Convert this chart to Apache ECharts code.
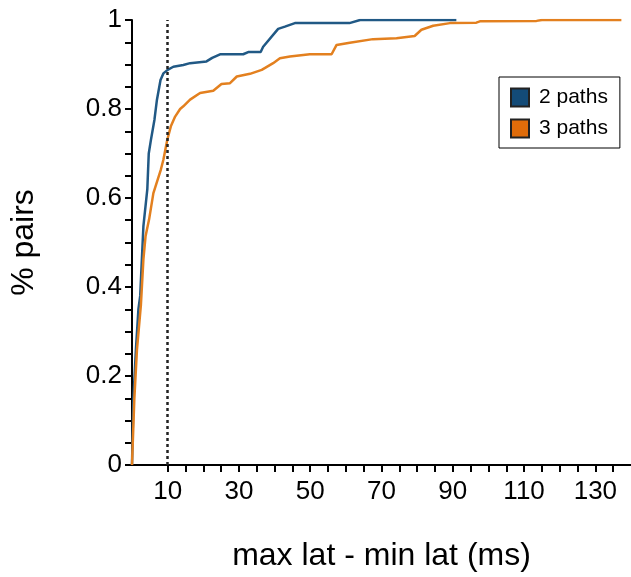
<!DOCTYPE html>
<html>
<head>
<meta charset="utf-8">
<script src="https://cdn.jsdelivr.net/npm/echarts@6/dist/echarts.min.js"></script>
<style>
  html, body { margin: 0; padding: 0; background: #fff; }
  #chart { width: 631px; height: 577px; }
</style>
</head>
<body>
<div id="chart"></div>
<script>
// [max lat - min lat (ms), fraction of pairs]
const paths2 = [
  [0, 0], [0.4, 0.15], [1.1, 0.26], [1.8, 0.35], [2.3, 0.38], [3.2, 0.537],
  [4.3, 0.62], [4.7, 0.70], [5.3, 0.73], [6.3, 0.776], [7, 0.821], [8, 0.865],
  [8.8, 0.88], [10, 0.888], [11.6, 0.895], [14.4, 0.899], [16.3, 0.903],
  [20.9, 0.907], [22.5, 0.915], [24.7, 0.923], [31.2, 0.923], [32.6, 0.928],
  [36.1, 0.928], [36.8, 0.94], [41, 0.98], [42.9, 0.985], [45.7, 0.993],
  [61, 0.993], [64, 1], [91, 1]
]
const paths3 = [
  [0, 0], [0.65, 0.148], [1.4, 0.26], [2.5, 0.36], [3.2, 0.462], [3.8, 0.514],
  [4.8, 0.552], [6, 0.611], [8.1, 0.664], [8.8, 0.686], [9.9, 0.731],
  [10.9, 0.761], [12.1, 0.783], [13.5, 0.8], [14.4, 0.806], [16.3, 0.821],
  [19.1, 0.836], [22.8, 0.841], [25.1, 0.856], [27.5, 0.858], [29.4, 0.873],
  [33.1, 0.879], [36.4, 0.888], [39.6, 0.903], [41.5, 0.914], [44.3, 0.918],
  [49.9, 0.923], [56, 0.923], [57.4, 0.944], [61.1, 0.949], [67.6, 0.957],
  [74.2, 0.959], [79.3, 0.964], [81.2, 0.978], [84.5, 0.987], [89.2, 0.993],
  [96.6, 0.994], [97.6, 0.997], [113.5, 0.998], [115, 1], [137.3, 1]
]
const xLabels = [10, 30, 50, 70, 90, 110, 130]
const xTicks = [10, 15, 20, 25, 30, 35, 40, 45, 50, 55, 60, 65, 70, 75, 80, 85, 90, 95, 100, 105, 110, 115, 120, 125, 130, 135]
const yLabels = [0, 0.2, 0.4, 0.6, 0.8, 1]
const yTicks = [0, 0.05, 0.1, 0.15, 0.2, 0.25, 0.3, 0.35, 0.4, 0.45, 0.5, 0.55, 0.6, 0.65, 0.7, 0.75, 0.8, 0.85, 0.9, 0.95, 1]
const cutoff = 10

const font = '"Liberation Sans", Arial, sans-serif'
const chart = echarts.init(document.getElementById('chart'))

const axisCommon = {
  axisLine: { lineStyle: { color: '#000', width: 2 } },
  axisTick: { lineStyle: { color: '#000', width: 2 }, length: 7 },
  splitLine: { show: false },
  axisLabel: { color: '#000', fontSize: 26, fontFamily: font },
  nameTextStyle: { color: '#000', fontSize: 32, fontFamily: font }
}

chart.setOption({
  animation: false,
  grid: { left: 132, top: 20, width: 499, height: 446 },
  legend: {
    orient: 'vertical',
    left: 499,
    top: 77,
    width: 123,
    padding: [10, 12, 9, 11],
    itemWidth: 18,
    itemHeight: 18,
    itemGap: 10,
    icon: 'rect',
    borderColor: '#000',
    borderWidth: 1,
    backgroundColor: '#fff',
    textStyle: { color: '#000', fontSize: 21, fontFamily: font, padding: [0, 0, 0, 5] },
    data: ['2 paths', '3 paths']
  },
  xAxis: {
    ...axisCommon,
    type: 'value',
    min: 0,
    max: 140,
    name: 'max lat - min lat (ms)',
    nameLocation: 'middle',
    nameGap: 75,
    axisTick: { ...axisCommon.axisTick, customValues: xTicks },
    axisLabel: { ...axisCommon.axisLabel, customValues: xLabels, margin: 14 }
  },
  yAxis: {
    ...axisCommon,
    type: 'value',
    min: 0,
    max: 1,
    name: '% pairs',
    nameLocation: 'middle',
    nameGap: 92,
    axisTick: { ...axisCommon.axisTick, customValues: yTicks },
    axisLabel: { ...axisCommon.axisLabel, customValues: yLabels, margin: 10 }
  },
  series: [
    {
      name: '2 paths',
      type: 'line',
      data: paths2,
      showSymbol: false,
      lineStyle: { color: '#215985', width: 2.5 },
      itemStyle: { color: '#134b78', borderColor: '#222', borderWidth: 1 },
      markLine: {
        silent: true,
        symbol: 'none',
        label: { show: false },
        lineStyle: { color: '#222', width: 2.5, type: [3, 3] },
        data: [{ xAxis: cutoff }]
      }
    },
    {
      name: '3 paths',
      type: 'line',
      data: paths3,
      showSymbol: false,
      lineStyle: { color: '#e3801f', width: 2.5 },
      itemStyle: { color: '#e06c0a', borderColor: '#222', borderWidth: 1 }
    }
  ]
})
</script>
</body>
</html>
